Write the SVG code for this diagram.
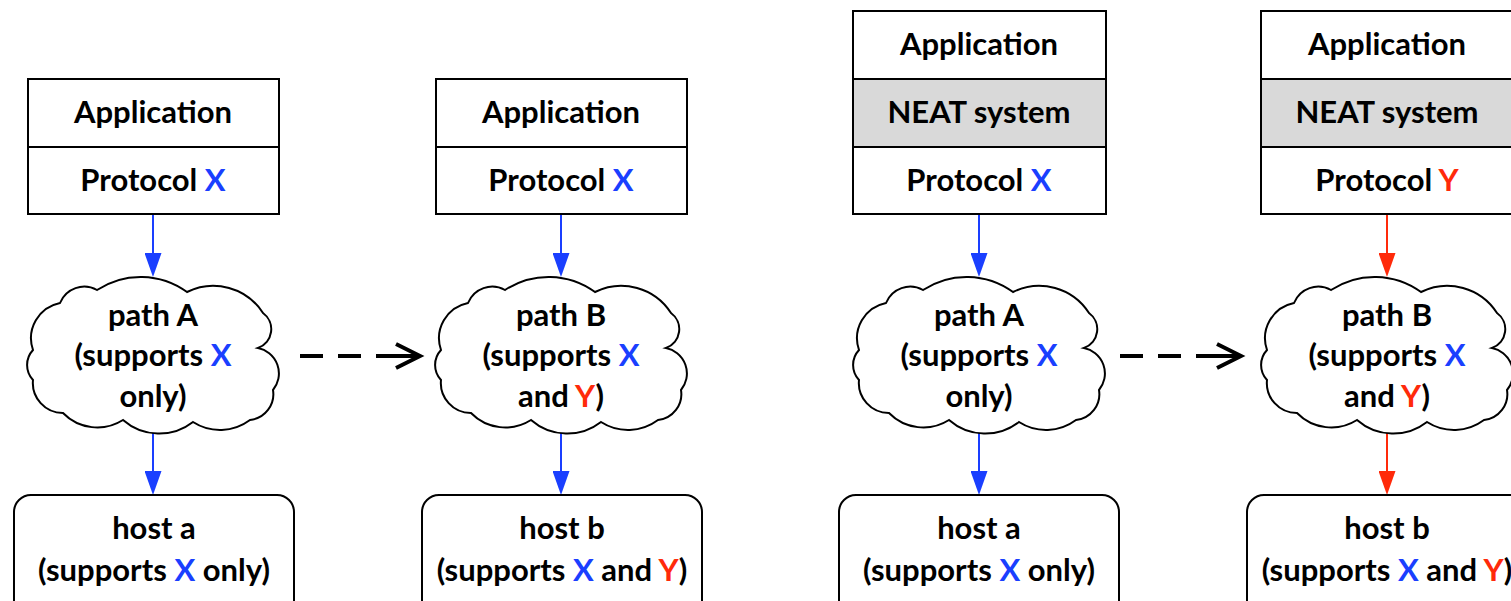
<svg xmlns="http://www.w3.org/2000/svg" width="1511" height="601" viewBox="0 0 1511 601">
<style>
.box{fill:#fff;stroke:#000;stroke-width:2}
.neat{fill:#d9d9d9;stroke:#000;stroke-width:2}
.cl{fill:#fff;stroke:#000;stroke-width:2}
text{font-family:Lato,"Liberation Sans",sans-serif;font-weight:bold;font-size:31px;fill:#000;text-anchor:middle}
.x{fill:#1a3fff}
.y{fill:#ff2a0a}
.lb{stroke:#1a3fff;stroke-width:2;fill:none}
.lr{stroke:#ff2a0a;stroke-width:2;fill:none}
.dash{stroke:#000;stroke-width:4;fill:none;stroke-dasharray:23 15 23 15 80}
.chev{stroke:#000;stroke-width:4;fill:none;stroke-linejoin:miter}
</style>
<defs>
<marker id="ab" markerUnits="userSpaceOnUse" markerWidth="24" markerHeight="17" refX="21" refY="8.5" orient="auto"><path d="M0,0 L24,8.5 L0,17 z" fill="#1a3fff"/></marker>
<marker id="ar" markerUnits="userSpaceOnUse" markerWidth="24" markerHeight="17" refX="21" refY="8.5" orient="auto"><path d="M0,0 L24,8.5 L0,17 z" fill="#ff2a0a"/></marker>
<path id="cloud" d="M-56,-66 A79,79 0 0 1 34,-64 A59,59 0 0 1 110,-43 A20,20 0 0 1 105,-8 A26,26 0 0 1 120,34 A26,26 0 0 1 97,64 A50,50 0 0 1 40,66 A55,55 0 0 1 -30,64 A48,48 0 0 1 -90,57 A30,30 0 0 1 -120,24 A22,22 0 0 1 -120,-6 A36,36 0 0 1 -93,-53 A26,26 0 0 1 -56,-66 Z"/>
</defs>

<g id="connectors">
<line class="lb" x1="153" y1="214" x2="153" y2="274" marker-end="url(#ab)"/>
<line class="lb" x1="153" y1="433" x2="153" y2="492" marker-end="url(#ab)"/>
<line class="lb" x1="561" y1="214" x2="561" y2="274" marker-end="url(#ab)"/>
<line class="lb" x1="561" y1="433" x2="561" y2="492" marker-end="url(#ab)"/>
<line class="lb" x1="979" y1="214" x2="979" y2="274" marker-end="url(#ab)"/>
<line class="lb" x1="979" y1="433" x2="979" y2="492" marker-end="url(#ab)"/>
<line class="lr" x1="1387" y1="214" x2="1387" y2="274" marker-end="url(#ar)"/>
<line class="lr" x1="1387" y1="433" x2="1387" y2="492" marker-end="url(#ar)"/>
<line class="dash" x1="300" y1="356" x2="418" y2="356"/>
<polyline class="chev" points="396,344 420,356 396,368"/>
<line class="dash" x1="1120" y1="356" x2="1239" y2="356"/>
<polyline class="chev" points="1217,344 1241,356 1217,368"/>
</g>

<g id="stack1">
<rect class="box" x="28" y="79" width="251" height="68"/>
<rect class="box" x="28" y="147" width="251" height="67"/>
<text x="153" y="123">Application</text>
<text x="153" y="191">Protocol <tspan class="x">X</tspan></text>
</g>
<g id="pathA1">
<use href="#cloud" class="cl" transform="translate(153,356)"/>
<text x="153" y="326">path A</text>
<text x="153" y="366">(supports <tspan class="x">X</tspan></text>
<text x="153" y="407">only)</text>
</g>
<g id="hostA1">
<rect class="box" x="14" y="495" width="280" height="125" rx="17"/>
<text x="154" y="539">host a</text>
<text x="154" y="581">(supports <tspan class="x">X</tspan> only)</text>
</g>

<g id="stack2">
<rect class="box" x="436" y="79" width="251" height="68"/>
<rect class="box" x="436" y="147" width="251" height="67"/>
<text x="561" y="123">Application</text>
<text x="561" y="191">Protocol <tspan class="x">X</tspan></text>
</g>
<g id="pathB2">
<use href="#cloud" class="cl" transform="translate(561,356)"/>
<text x="561" y="326">path B</text>
<text x="561" y="366">(supports <tspan class="x">X</tspan></text>
<text x="561" y="407">and <tspan class="y">Y</tspan>)</text>
</g>
<g id="hostB2">
<rect class="box" x="422" y="495" width="280" height="125" rx="17"/>
<text x="562" y="539">host b</text>
<text x="562" y="581">(supports <tspan class="x">X</tspan> and <tspan class="y">Y</tspan>)</text>
</g>

<g id="stack3">
<rect class="box" x="853" y="11" width="253" height="68"/>
<rect class="neat" x="853" y="79" width="253" height="68"/>
<rect class="box" x="853" y="147" width="253" height="67"/>
<text x="979" y="55">Application</text>
<text x="979" y="123">NEAT system</text>
<text x="979" y="191">Protocol <tspan class="x">X</tspan></text>
</g>
<g id="pathA3">
<use href="#cloud" class="cl" transform="translate(979,356)"/>
<text x="979" y="326">path A</text>
<text x="979" y="366">(supports <tspan class="x">X</tspan></text>
<text x="979" y="407">only)</text>
</g>
<g id="hostA3">
<rect class="box" x="839" y="495" width="280" height="125" rx="17"/>
<text x="979" y="539">host a</text>
<text x="979" y="581">(supports <tspan class="x">X</tspan> only)</text>
</g>

<g id="stack4">
<rect class="box" x="1261" y="11" width="253" height="68"/>
<rect class="neat" x="1261" y="79" width="253" height="68"/>
<rect class="box" x="1261" y="147" width="253" height="67"/>
<text x="1387" y="55">Application</text>
<text x="1387" y="123">NEAT system</text>
<text x="1387" y="191">Protocol <tspan class="y">Y</tspan></text>
</g>
<g id="pathB4">
<use href="#cloud" class="cl" transform="translate(1387,356)"/>
<text x="1387" y="326">path B</text>
<text x="1387" y="366">(supports <tspan class="x">X</tspan></text>
<text x="1387" y="407">and <tspan class="y">Y</tspan>)</text>
</g>
<g id="hostB4">
<rect class="box" x="1247" y="495" width="280" height="125" rx="17"/>
<text x="1387" y="539">host b</text>
<text x="1387" y="581">(supports <tspan class="x">X</tspan> and <tspan class="y">Y</tspan>)</text>
</g>
</svg>
